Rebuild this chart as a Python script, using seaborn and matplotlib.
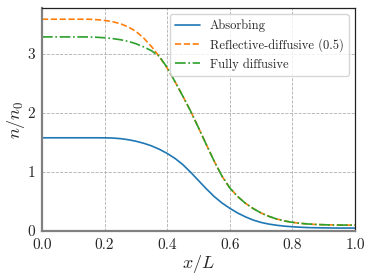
import matplotlib
matplotlib.use("Agg")
import matplotlib.pyplot as plt
import seaborn as sns
import pandas as pd

x_vals = [0.0, 0.025, 0.05, 0.075, 0.1, 0.125, 0.15, 0.175, 0.2, 0.225,
          0.25, 0.275, 0.3, 0.325, 0.35, 0.375, 0.4, 0.425, 0.45, 0.475,
          0.5, 0.525, 0.55, 0.575, 0.6, 0.625, 0.65, 0.675, 0.7, 0.725,
          0.75, 0.775, 0.8, 0.825, 0.85, 0.875, 0.9, 0.925, 0.95, 0.975, 1.0]

absorbing = [1.58, 1.58, 1.58, 1.58, 1.58, 1.58, 1.58, 1.58, 1.579, 1.576,
             1.566, 1.548, 1.522, 1.487, 1.443, 1.385, 1.315, 1.23, 1.125, 0.995,
             0.855, 0.715, 0.585, 0.475, 0.385, 0.305, 0.24, 0.185, 0.145, 0.117,
             0.097, 0.082, 0.072, 0.064, 0.058, 0.055, 0.053, 0.051, 0.05, 0.05, 0.05]

reflective = [3.59, 3.59, 3.59, 3.59, 3.59, 3.59, 3.589, 3.582, 3.57, 3.548,
              3.515, 3.46, 3.385, 3.27, 3.125, 2.955, 2.76, 2.53, 2.285, 2.03,
              1.75, 1.465, 1.185, 0.93, 0.73, 0.585, 0.47, 0.38, 0.305, 0.248,
              0.203, 0.17, 0.147, 0.13, 0.119, 0.111, 0.106, 0.103, 0.101, 0.10, 0.10]

fully_diffusive = [3.29, 3.29, 3.29, 3.29, 3.29, 3.29, 3.289, 3.284, 3.275, 3.262,
                   3.243, 3.215, 3.175, 3.12, 3.055, 2.96, 2.77, 2.53, 2.285, 2.03,
                   1.75, 1.465, 1.185, 0.93, 0.73, 0.585, 0.47, 0.38, 0.305, 0.248,
                   0.203, 0.17, 0.147, 0.13, 0.119, 0.111, 0.106, 0.103, 0.101, 0.10, 0.10]

series_names = ["Absorbing", "Reflective-diffusive (0.5)", "Fully diffusive"]
series_values = [absorbing, reflective, fully_diffusive]
series_colors = ["#1f77b4", "#ff7f0e", "#2ca02c"]
series_styles = ["-", "--", "-."]

x_ticks = [0.0, 0.2, 0.4, 0.6, 0.8, 1.0]
y_ticks = [0, 1, 2, 3]

sns.set_style("white")
plt.rcParams["font.family"] = ["cmr10", "DejaVu Serif"]
plt.rcParams["mathtext.fontset"] = "cm"
plt.rcParams["axes.formatter.use_mathtext"] = True
plt.rcParams["axes.unicode_minus"] = False

fig = plt.figure(figsize=(3.74, 2.80), dpi=100)
ax = fig.add_axes([42 / 374, 49 / 280, 313 / 374, 223 / 280])

for name, vals, col, ls in zip(series_names, series_values, series_colors, series_styles):
    df = pd.DataFrame({"x": x_vals, "y": vals})
    sns.lineplot(data=df, x="x", y="y", ax=ax, color=col, linestyle=ls,
                 linewidth=1.2, label=name)

ax.set_xlim(0, 1)
ax.set_ylim(0, 3.78)
ax.set_xticks(x_ticks)
ax.set_yticks(y_ticks)
ax.set_xticklabels([f"{t:.1f}" for t in x_ticks])
ax.set_yticklabels([str(t) for t in y_ticks])
ax.grid(True, linestyle="--", color="#b0b0b0", linewidth=0.6)
ax.set_axisbelow(True)

for side in ["left", "bottom"]:
    ax.spines[side].set_color("#808080")
    ax.spines[side].set_linewidth(1.6)
for side in ["top", "right"]:
    ax.spines[side].set_color("#222222")
    ax.spines[side].set_linewidth(0.9)

ax.tick_params(axis="both", which="major", labelsize=11, length=3, width=0.9,
               color="#808080", pad=2, direction="out")
ax.set_xlabel(r"$x/L$", fontsize=13, labelpad=1)
ax.set_ylabel(r"$n/n_0$", fontsize=13, labelpad=0)

leg = ax.legend(loc="upper right", fontsize=9, frameon=True, fancybox=True,
                framealpha=0.8, edgecolor="#cccccc")

fig.savefig("out.png", dpi=100)
